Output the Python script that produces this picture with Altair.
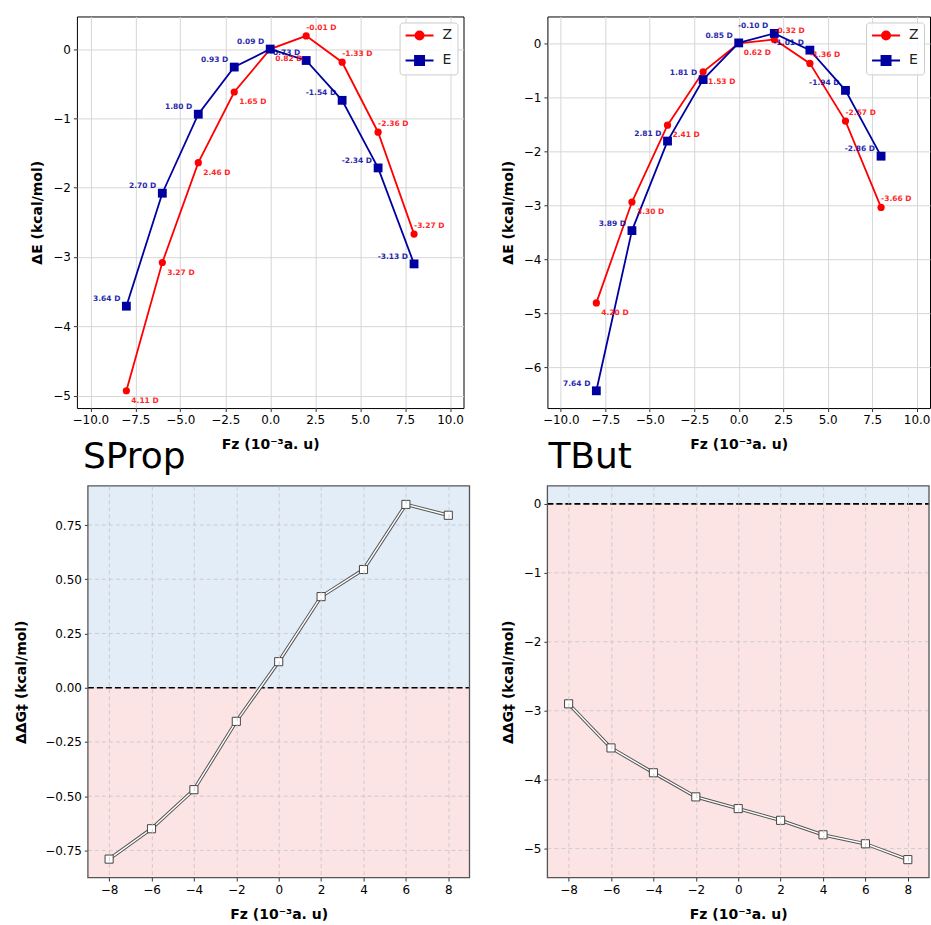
import altair as alt
import pandas as pd

FONT = "DejaVu Sans"
RED = "#ff0000"
BLUE = "#0000a0"
BG_POS = "#e3edf8"
BG_NEG = "#fce4e4"

fz = [-8, -6, -4, -2, 0, 2, 4, 6, 8]

# SProp, relative energies (kcal/mol) and dipole labels
sprop_de_z = [-4.93, -3.08, -1.64, -0.62, 0.00, 0.19, -0.19, -1.20, -2.67]
sprop_de_e = [-3.71, -2.08, -0.94, -0.26, 0.00, -0.165, -0.74, -1.715, -3.10]
sprop_mu_z = ["4.11 D", "3.27 D", "2.46 D", "1.65 D", "0.82 D", "-0.01 D", "-1.33 D", "-2.36 D", "-3.27 D"]
sprop_mu_e = ["3.64 D", "2.70 D", "1.80 D", "0.93 D", "0.09 D", "-0.73 D", "-1.54 D", "-2.34 D", "-3.13 D"]

# TBut, relative energies (kcal/mol) and dipole labels
tbut_de_z = [-4.81, -2.94, -1.515, -0.525, 0.00, 0.075, -0.37, -1.44, -3.04]
tbut_de_e = [-6.44, -3.47, -1.81, -0.67, 0.01, 0.186, -0.124, -0.87, -2.09]
tbut_mu_z = ["4.20 D", "3.30 D", "2.41 D", "1.53 D", "0.62 D", "-0.32 D", "-1.36 D", "-2.57 D", "-3.66 D"]
tbut_mu_e = ["7.64 D", "3.89 D", "2.81 D", "1.81 D", "0.85 D", "-0.10 D", "-1.01 D", "-1.94 D", "-2.86 D"]

# ΔΔG‡ (kcal/mol)
sprop_ddg = [-0.79, -0.65, -0.47, -0.155, 0.12, 0.42, 0.545, 0.845, 0.795]
tbut_ddg = [-2.90, -3.54, -3.90, -4.25, -4.42, -4.59, -4.80, -4.93, -5.16]

series_names = ["Z", "E"]
series_colors = [RED, BLUE]
x_ticks_top = [-10, -7.5, -5, -2.5, 0, 2.5, 5, 7.5, 10]

XTITLE = "Fz (10⁻³a. u)"
MINUS = "replace(format(datum.value, '{fmt}'), '-', '−')"

# legend glyphs: a line with a marker in the middle (units of 7 px)
CIRC_PATH = "M-1,0L3,0M0.43,0A0.57,0.57,0,1,1,1.57,0A0.57,0.57,0,1,1,0.43,0Z"
SQ_PATH = "M-1,0L3,0M0.36,-0.64L1.64,-0.64L1.64,0.64L0.36,0.64Z"


def long_df(de_z, de_e, mu_z, mu_e):
    rows = []
    for s, de, mu in (("Z", de_z, mu_z), ("E", de_e, mu_e)):
        for x, y, m in zip(fz, de, mu):
            rows.append({"fz": x, "dE": y, "series": s, "mu": m})
    return pd.DataFrame(rows)


def top_panel(df, ydom, yvals, title, title_dx, W):
    H = 392
    xsc = alt.Scale(domain=[-10.75, 10.75], nice=False, zero=False)
    ysc = alt.Scale(domain=ydom, nice=False, zero=False)
    xax = alt.Axis(values=x_ticks_top, labelExpr=MINUS.format(fmt=".1f"), title=XTITLE,
                   grid=True, gridColor="#d6d6d6", gridWidth=1, titlePadding=12)
    yax = alt.Axis(values=yvals, labelExpr=MINUS.format(fmt="d"), title="ΔE (kcal/mol)",
                   grid=True, gridColor="#d6d6d6", gridWidth=1, titlePadding=8)
    base = alt.Chart(df).encode(x=alt.X("fz:Q", scale=xsc, axis=xax),
                                y=alt.Y("dE:Q", scale=ysc, axis=yax))
    cscale = alt.Scale(domain=series_names, range=series_colors)
    lz = base.transform_filter("datum.series == 'Z'").mark_line(strokeWidth=1.8, color=RED)
    le = base.transform_filter("datum.series == 'E'").mark_line(strokeWidth=1.8, color=BLUE)
    pz = base.transform_filter("datum.series == 'Z'").mark_point(
        shape="circle", filled=True, size=52, opacity=1, color=RED)
    pe = base.transform_filter("datum.series == 'E'").mark_point(
        shape="square", filled=True, size=78, opacity=1, color=BLUE)
    leg = alt.Legend(title=None, orient="top-right", offset=6, padding=5,
                     fillColor="rgba(255,255,255,0.85)", strokeColor="#cccccc",
                     cornerRadius=3, labelFont=FONT, labelFontSize=14, labelColor="#222222",
                     symbolSize=196, symbolStrokeWidth=2, symbolOpacity=1,
                     labelOffset=22, rowPadding=8)
    legend_layer = base.mark_point(filled=True, size=0, strokeWidth=2, opacity=1).encode(
        color=alt.Color("series:N", scale=cscale, legend=leg),
        stroke=alt.Stroke("series:N", scale=cscale, legend=leg),
        shape=alt.Shape("series:N", scale=alt.Scale(domain=series_names, range=[CIRC_PATH, SQ_PATH]),
                        legend=leg))
    tz1 = base.transform_filter("datum.series == 'Z' && datum.fz <= 0").mark_text(
        align="left", baseline="middle", dx=5, dy=10, fontSize=7.5, fontWeight="bold",
        color=RED, opacity=0.85).encode(text="mu:N")
    tz2 = base.transform_filter("datum.series == 'Z' && datum.fz > 0").mark_text(
        align="left", baseline="middle", dx=0, dy=-8, fontSize=7.5, fontWeight="bold",
        color=RED, opacity=0.85).encode(text="mu:N")
    te = base.transform_filter("datum.series == 'E'").mark_text(
        align="right", baseline="middle", dx=-6, dy=-7, fontSize=7.5, fontWeight="bold",
        color=BLUE, opacity=0.85).encode(text="mu:N")
    ttl = alt.Chart(pd.DataFrame({"t": [title]})).mark_text(
        align="left", baseline="alphabetic", fontSize=36, font=FONT, color="black").encode(
        x=alt.value(title_dx), y=alt.value(H + 60), text="t:N")
    return alt.layer(lz, le, pz, pe, legend_layer, tz1, tz2, te, ttl).properties(
        width=W, height=H, view=alt.ViewBackground(stroke="black", strokeWidth=1))


def bottom_panel(ddg, ydom, yvals, yfmt, inset, ytitle_pad):
    # inset: empty pixels kept on the left of the framed plot area
    PW, H = 382, 392
    W = PW + inset
    df = pd.DataFrame({"fz": fz, "ddg": ddg})
    xsc = alt.Scale(domain=[-9, 9], range=[inset, W], nice=False, zero=False)
    ysc = alt.Scale(domain=ydom, nice=False, zero=False)
    xax = alt.Axis(values=fz, labelExpr=MINUS.format(fmt="d"), title=XTITLE, grid=True,
                   gridColor="#c4c4c4", gridDash=[4, 3], gridWidth=0.8, zindex=1,
                   titlePadding=12, titleX=inset + PW / 2)
    yax = alt.Axis(values=yvals, labelExpr=MINUS.format(fmt=yfmt), title="ΔΔG‡ (kcal/mol)",
                   grid=False, offset=-inset, titlePadding=ytitle_pad)
    one = pd.DataFrame({"k": [0]})
    bands = pd.DataFrame({"lo": [0, ydom[0]], "hi": [ydom[1], 0], "kind": ["pos", "neg"]})
    bg = alt.Chart(bands).mark_rect().encode(
        x=alt.value(inset), x2=alt.value(W),
        y=alt.Y("lo:Q", scale=ysc, axis=yax), y2="hi:Q",
        color=alt.Color("kind:N", scale=alt.Scale(domain=["pos", "neg"], range=[BG_POS, BG_NEG]),
                        legend=None))
    hgrid = alt.Chart(pd.DataFrame({"g": yvals})).mark_rule(
        color="#c4c4c4", strokeDash=[4, 3], strokeWidth=0.8).encode(
        y=alt.Y("g:Q", scale=ysc, axis=yax), x=alt.value(inset), x2=alt.value(W))
    zero = alt.Chart(pd.DataFrame({"z": [0]})).mark_rule(
        color="black", strokeDash=[6, 3], strokeWidth=1.7).encode(
        y=alt.Y("z:Q", scale=ysc, axis=yax), x=alt.value(inset), x2=alt.value(W))
    base = alt.Chart(df).encode(x=alt.X("fz:Q", scale=xsc, axis=xax),
                                y=alt.Y("ddg:Q", scale=ysc, axis=yax))
    l1 = base.mark_line(color="#555555", strokeWidth=3.4)
    l2 = base.mark_line(color="white", strokeWidth=1.4)
    pts = base.mark_square(size=66, fill="white", stroke="#444444", strokeWidth=1, opacity=1)
    frame = alt.Chart(one).mark_rect(fill="transparent", stroke="#555555", strokeWidth=1.3).encode(
        x=alt.value(inset), x2=alt.value(W), y=alt.value(0), y2=alt.value(H))
    return alt.layer(bg, hgrid, zero, l1, l2, pts, frame).properties(
        width=W, height=H, view=alt.ViewBackground(stroke=None))


tl = top_panel(long_df(sprop_de_z, sprop_de_e, sprop_mu_z, sprop_mu_e),
               [-5.18, 0.47], [0, -1, -2, -3, -4, -5], "SProp", 6, 387)
tr = top_panel(long_df(tbut_de_z, tbut_de_e, tbut_mu_z, tbut_mu_e),
               [-6.76, 0.5], [0, -1, -2, -3, -4, -5, -6], "TBut", 1, 383)
bl = bottom_panel(sprop_ddg, [-0.875, 0.93], [-0.75, -0.5, -0.25, 0, 0.25, 0.5, 0.75], ".2f", 11, 16)
br = bottom_panel(tbut_ddg, [-5.42, 0.26], [-5, -4, -3, -2, -1, 0], "d", 0, 8)

top = alt.hconcat(tl, tr, spacing=36).resolve_scale(
    color="independent", stroke="independent", shape="independent")
bottom = alt.hconcat(bl, br, spacing=30).resolve_scale(color="independent")

chart = alt.vconcat(top, bottom, spacing=9).properties(
    padding={"left": 14, "top": 15, "right": 0, "bottom": 0},
    background="white",
).configure_axis(
    labelFont=FONT, titleFont=FONT, labelFontSize=12, titleFontSize=14,
    titleFontWeight="bold", labelColor="black", titleColor="black",
    tickColor="black", tickSize=3.5, tickWidth=0.8, domain=False, labelPadding=3,
).configure_text(font=FONT).configure_legend(labelFont=FONT)

chart.save("out.html", embed_options={"renderer": "svg", "actions": False})
